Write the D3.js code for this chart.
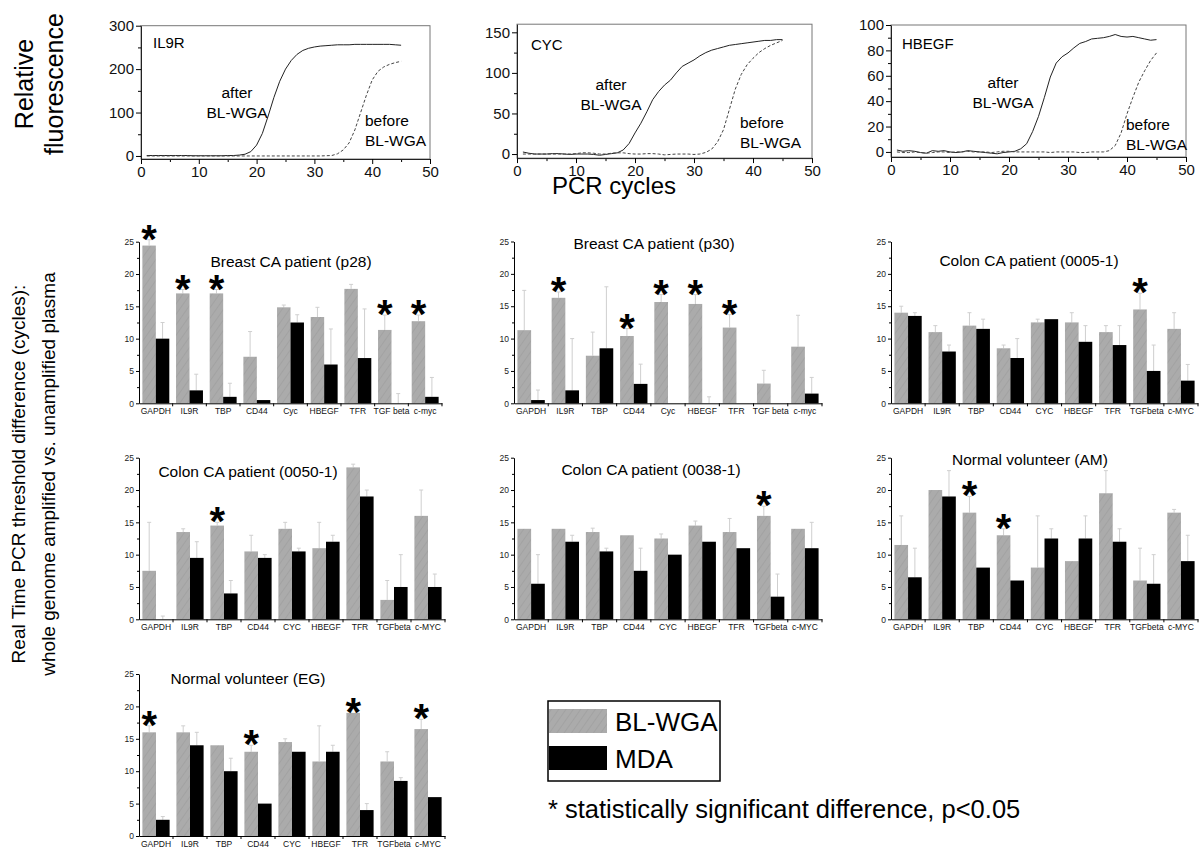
<!DOCTYPE html>
<html>
<head>
<meta charset="utf-8">
<script src="https://cdn.jsdelivr.net/npm/d3@7"></script>
<style>
body{margin:0;background:#fff}
svg{display:block;font-family:"Liberation Sans",Arial,sans-serif}
</style>
</head>
<body>
<svg id="fig" width="1199" height="851"></svg>
<script>
// ---- amplification curves (relative fluorescence per PCR cycle, cycles 1..45)
var cycles = d3.range(1, 46);
var il9rAfter = [1,1,1,1,1,1,1,1,0.5,0.5,0.5,0.5,0.5,0.5,1,1,2,
  4,10,25,52,92,135,172,200,220,234,243,248,251,253,254,255,256,256,256,257,257,257,257,257,257,257,256,255];
var il9rBefore = [0,0,0,0,0,0,0,0,0,0,0,0,0,0,0,0,0,0,0,0,0,0,0,0,0,0,0,0,0,0,0,0.5,1,
  5,14,30,60,100,140,175,195,205,211,215,218];
var cycAfter = [2.5,1,0,0,0,0.5,0.5,0,-0.5,0,0,0,-0.5,-1.5,-0.5,0.5,1.5,
  5,13,26,38,52,67,77,85,91,100,108,112,116,121,125,128,130,132,134,135,136,137,138,139,140,140,141,141];
var cycBefore = [0,0,0,0,0,0,0,0,0,0.5,1.5,1.5,1,0,0,1,1.5,1.5,0.5,0,0,0.5,0.5,0,-1,-0.5,0,0,0,-0.5,0,
  2,6,15,30,55,80,98,110,118,125,130,134,137,140];
var hbegfAfter = [1.5,0.5,1,0.5,-0.5,-1,1,0.5,1,0,-0.5,0,1,0.5,0,-0.5,-1,-1.5,-0.5,0,0.5,
  2.5,6.5,16,28,43,59,70,75,78,82,85.5,87,89,89.5,90,91,92.5,91,90.5,91,90,89,88,88.5];
var hbegfBefore = [0,-0.5,-0.5,0,-0.5,-1,-0.5,0,0,-0.5,0,0,0.5,0,0,0,-0.5,0,0.5,0.5,0,0,0,0,0,0,-0.5,0,0,0,0,-0.5,-0.5,0,0,0,
  1,5,15,30,43,55,64,72,78];

// ---- threshold differences per gene
var genesA = ["GAPDH","IL9R","TBP","CD44","Cyc","HBEGF","TFR","TGF beta","c-myc"];
var genesB = ["GAPDH","IL9R","TBP","CD44","CYC","HBEGF","TFR","TGFbeta","c-MYC"];

var p28Bl  = [24.4,17,17,7.2,14.85,13.35,17.7,11.35,12.7];
var p28BlE = [0.9,0.6,0.6,3.9,0.35,1.5,0.7,2.3,0.95];
var p28Md  = [10,2,1,0.5,12.5,6,7,0,1];
var p28MdE = [2.5,2.5,2.1,0,1.2,5.5,7.6,1.5,3];
var p28Sig = [0,1,2,7,8];

var p30Bl  = [11.3,16.3,7.35,10.4,15.65,15.35,11.7,3.05,8.75];
var p30BlE = [6.15,0.9,3.65,1.15,1.15,1.45,2,2.05,4.85];
var p30Md  = [0.5,2,8.5,3,0,0,0,0,1.5];
var p30MdE = [1.55,8,9.5,3.05,0,1,0,0,2.5];
var p30Sig = [1,3,4,5,6];

var c0005Bl  = [14,11,12,8.5,12.5,12.5,11,14.5,11.5];
var c0005BlE = [1,1,2,0.5,0.5,1.5,1,2.5,2.5];
var c0005Md  = [13.5,8,11.5,7,13,9.5,9,5,3.5];
var c0005MdE = [0.5,1,1.5,3,0,2.5,3,4,2.5];
var c0005Sig = [7];

var c0050Bl  = [7.5,13.5,14.5,10.5,14,11,23.5,3,16];
var c0050BlE = [7.5,0.5,0.5,2.5,1,4,0.5,3,4];
var c0050Md  = [0,9.5,4,9.5,10.5,12,19,5,5];
var c0050MdE = [0.5,2.5,2,0.5,0.5,1,1,5,2];
var c0050Sig = [2];

var c0038Bl  = [14,14,13.5,13,12.5,14.5,13.5,16,14];
var c0038BlE = [0,0,0.6,0,0.7,0.7,2.1,1.5,0];
var c0038Md  = [5.5,12,10.5,7.5,10,12,11,3.5,11];
var c0038MdE = [4.5,1,0.5,3.5,0,0,0,3.5,4];
var c0038Sig = [7];

var amBl  = [11.5,20,16.5,13,8,9,19.5,6,16.5];
var amBlE = [4.5,0,2.5,1,8,0,3.5,5,0.5];
var amMd  = [6.5,19,8,6,12.5,12.5,12,5.5,9];
var amMdE = [4.5,4,0,0,1.5,3.5,2,4.5,4];
var amSig = [2,3];

var egBl  = [16,16,14,13,14.5,11.5,19,11.5,16.5];
var egBlE = [1,1,0,1,0.5,5.5,0,1.5,1.5];
var egMd  = [2.5,14,10,5,13,13,4,8.5,6];
var egMdE = [0.5,2,2,0,0,1,1,0.5,0];
var egSig = [0,3,6,8];

var svg = d3.select("#fig");
var GRAY = "#ababab";

// hatched gray fill
var pat = svg.append("defs").append("pattern")
  .attr("id","hatch").attr("patternUnits","userSpaceOnUse")
  .attr("width",6).attr("height",6)
  .attr("patternTransform","rotate(35)");
pat.append("rect").attr("width",6).attr("height",6).attr("fill",GRAY);
pat.append("line").attr("x1",0).attr("y1",0).attr("x2",0).attr("y2",6)
  .attr("stroke","#9f9f9f").attr("stroke-width",1.5);

// ---------- top row: amplification curves
function curvePanel(o){
  var x = d3.scaleLinear().domain([0,50]).range([o.x0,o.x1]);
  var y = d3.scaleLinear().domain(o.yDom).range([o.yb,o.yt]);
  var g = svg.append("g");
  g.append("rect").attr("x",o.x0).attr("y",o.yt).attr("width",o.x1-o.x0).attr("height",o.yb-o.yt)
    .attr("fill","none").attr("stroke","#777").attr("stroke-width",1);
  // minor ticks
  g.append("g").attr("transform","translate(0,"+o.yb+")")
    .call(d3.axisBottom(x).tickValues(d3.range(5,50,10)).tickSize(3).tickFormat(""))
    .call(function(a){a.select(".domain").remove();});
  g.append("g").attr("transform","translate("+o.x0+",0)")
    .call(d3.axisLeft(y).tickValues(o.minor).tickSize(3).tickFormat(""))
    .call(function(a){a.select(".domain").remove();});
  var xa = g.append("g").attr("transform","translate(0,"+o.yb+")")
    .call(d3.axisBottom(x).tickValues(d3.range(0,51,10)).tickSize(5).tickPadding(2).tickSizeOuter(0));
  var ya = g.append("g").attr("transform","translate("+o.x0+",0)")
    .call(d3.axisLeft(y).tickValues(o.major).tickSize(5).tickPadding(2).tickSizeOuter(0));
  [xa,ya].forEach(function(a){
    a.selectAll("text").attr("font-size",15).attr("fill","#111").attr("font-family",null);
    a.select(".domain").attr("stroke","#222");
  });
  var line = d3.line().x(function(d,i){return x(cycles[i]);}).y(function(d){return y(d);});
  g.append("path").attr("d",line(o.after)).attr("fill","none").attr("stroke","#222").attr("stroke-width",1);
  g.append("path").attr("d",line(o.before)).attr("fill","none").attr("stroke","#444")
    .attr("stroke-width",1).attr("stroke-dasharray","3,2");
  g.append("text").attr("x",o.name[0]).attr("y",o.name[1]).attr("font-size",15).text(o.name[2]);
  g.append("text").attr("x",o.aft[0]).attr("y",o.aft[1]).attr("font-size",15.5).attr("text-anchor","middle").text("after");
  g.append("text").attr("x",o.aft[0]).attr("y",o.aft[1]+20).attr("font-size",15.5).attr("text-anchor","middle").text("BL-WGA");
  g.append("text").attr("x",o.bef[0]).attr("y",o.bef[1]).attr("font-size",15.5).text("before");
  g.append("text").attr("x",o.bef[0]).attr("y",o.bef[1]+20).attr("font-size",15.5).text("BL-WGA");
}

curvePanel({x0:141,x1:430,yt:25.7,yb:159,yDom:[-7,300],major:[0,100,200,300],minor:[50,150,250],
  after:il9rAfter,before:il9rBefore,name:[153,48,"IL9R"],aft:[237,98],bef:[365,126]});
curvePanel({x0:517,x1:812,yt:24.2,yb:158.1,yDom:[-5,160],major:[0,50,100,150],minor:[25,75,125],
  after:cycAfter,before:cycBefore,name:[531,50,"CYC"],aft:[611,90],bef:[740,128]});
curvePanel({x0:891,x1:1186,yt:25,yb:157,yDom:[-4,100],major:[0,20,40,60,80,100],minor:[10,30,50,70,90],
  after:hbegfAfter,before:hbegfBefore,name:[902,49,"HBEGF"],aft:[1003,88],bef:[1126,130]});

svg.append("text").attr("x",614).attr("y",194).attr("text-anchor","middle").attr("font-size",24).text("PCR cycles");
svg.append("text").attr("transform","translate(33,84) rotate(-90)").attr("text-anchor","middle")
  .attr("font-size",25).text("Relative");
svg.append("text").attr("transform","translate(63,84) rotate(-90)").attr("text-anchor","middle")
  .attr("font-size",25).text("fluorescence");

// ---------- bar panels
function barPanel(o){
  var x = d3.scaleBand().domain(o.genes).range([o.x0,o.x1]).paddingInner(0.2).paddingOuter(0.1);
  var y = d3.scaleLinear().domain([0,25]).range([o.y0,o.y25]);
  var bw = x.bandwidth()/2;
  var g = svg.append("g");
  var rows = o.genes.map(function(n,i){return {n:n,bl:o.bl[i],blE:o.blE[i],md:o.md[i],mdE:o.mdE[i],sig:o.sig.indexOf(i)>=0};});
  // error bars (upper only)
  function err(xc,v,e){
    if(e<=0) return;
    g.append("line").attr("x1",xc).attr("x2",xc).attr("y1",y(v)).attr("y2",y(v+e)).attr("stroke","#cfcfcf").attr("stroke-width",1);
    g.append("line").attr("x1",xc-2).attr("x2",xc+2).attr("y1",y(v+e)).attr("y2",y(v+e)).attr("stroke","#cfcfcf").attr("stroke-width",1);
  }
  rows.forEach(function(d){
    err(x(d.n)+bw/2,d.bl,d.blE);
    err(x(d.n)+bw*1.5,d.md,d.mdE);
  });
  g.selectAll(".bl").data(rows).enter().append("rect")
    .attr("x",function(d){return x(d.n);}).attr("width",bw)
    .attr("y",function(d){return y(d.bl);}).attr("height",function(d){return y(0)-y(d.bl);})
    .attr("fill","url(#hatch)");
  g.selectAll(".md").data(rows).enter().append("rect")
    .attr("x",function(d){return x(d.n)+bw;}).attr("width",bw)
    .attr("y",function(d){return y(d.md);}).attr("height",function(d){return y(0)-y(d.md);})
    .attr("fill","#000");
  g.selectAll(".star").data(rows.filter(function(d){return d.sig;})).enter().append("text")
    .attr("x",function(d){return x(d.n)+bw/2;}).attr("y",function(d){return y(d.bl+d.blE)+13;})
    .attr("text-anchor","middle").attr("font-size",40).attr("font-weight","bold").text("*");
  // axes
  g.append("g").attr("transform","translate("+o.x0+",0)")
    .call(d3.axisLeft(y).tickValues([2.5,7.5,12.5,17.5,22.5]).tickSize(2).tickFormat(""))
    .call(function(a){a.select(".domain").remove();});
  var ya = g.append("g").attr("transform","translate("+o.x0+",0)")
    .call(d3.axisLeft(y).tickValues([0,5,10,15,20,25]).tickSize(3).tickPadding(2).tickSizeOuter(0));
  ya.selectAll("text").attr("font-size",8.5).attr("fill","#222").attr("font-family",null);
  var xa = g.append("g").attr("transform","translate(0,"+o.y0+")")
    .call(d3.axisBottom(x).tickSize(0).tickPadding(5).tickSizeOuter(0));
  xa.selectAll("text").attr("font-size",8.5).attr("fill","#111").attr("font-family",null);
  xa.selectAll(".tick").append("line").attr("x1",x.step()/2).attr("x2",x.step()/2).attr("y2",3).attr("stroke","#000");
  g.append("text").attr("x",o.t[0]).attr("y",o.t[1]).attr("text-anchor","middle").attr("font-size",15.5).text(o.title);
}

barPanel({x0:139,x1:442,y0:403.3,y25:241.7,genes:genesA,bl:p28Bl,blE:p28BlE,md:p28Md,mdE:p28MdE,sig:p28Sig,
  title:"Breast CA patient (p28)",t:[291,267]});
barPanel({x0:514,x1:822,y0:403.3,y25:241.5,genes:genesA,bl:p30Bl,blE:p30BlE,md:p30Md,mdE:p30MdE,sig:p30Sig,
  title:"Breast CA patient (p30)",t:[654,249]});
barPanel({x0:891,x1:1198,y0:403.3,y25:241.5,genes:genesB,bl:c0005Bl,blE:c0005BlE,md:c0005Md,mdE:c0005MdE,sig:c0005Sig,
  title:"Colon CA patient (0005-1)",t:[1029,266]});
barPanel({x0:139,x1:445,y0:619.3,y25:457.7,genes:genesB,bl:c0050Bl,blE:c0050BlE,md:c0050Md,mdE:c0050MdE,sig:c0050Sig,
  title:"Colon CA patient (0050-1)",t:[248,477]});
barPanel({x0:514,x1:822,y0:619.3,y25:457.7,genes:genesB,bl:c0038Bl,blE:c0038BlE,md:c0038Md,mdE:c0038MdE,sig:c0038Sig,
  title:"Colon CA patient (0038-1)",t:[651,475]});
barPanel({x0:891,x1:1198,y0:619.3,y25:457.7,genes:genesB,bl:amBl,blE:amBlE,md:amMd,mdE:amMdE,sig:amSig,
  title:"Normal volunteer (AM)",t:[1030,465]});
barPanel({x0:139,x1:445,y0:836,y25:674,genes:genesB,bl:egBl,blE:egBlE,md:egMd,mdE:egMdE,sig:egSig,
  title:"Normal volunteer (EG)",t:[248,684]});

// y title for bar panels
svg.append("text").attr("transform","translate(25,474) rotate(-90)").attr("text-anchor","middle")
  .attr("font-size",19).text("Real Time PCR threshold difference (cycles):");
svg.append("text").attr("transform","translate(55,474) rotate(-90)").attr("text-anchor","middle")
  .attr("font-size",19).text("whole genome amplified vs. unamplified plasma");

// legend
var lg = svg.append("g");
lg.append("rect").attr("x",548).attr("y",701).attr("width",172).attr("height",80)
  .attr("fill","none").attr("stroke","#000").attr("stroke-width",1.5);
lg.append("rect").attr("x",549).attr("y",709).attr("width",58).attr("height",24).attr("fill","url(#hatch)");
lg.append("rect").attr("x",549).attr("y",746).attr("width",58).attr("height",24).attr("fill","#000");
lg.append("text").attr("x",615).attr("y",731).attr("font-size",26).text("BL-WGA");
lg.append("text").attr("x",615).attr("y",768).attr("font-size",26).text("MDA");
svg.append("text").attr("x",548).attr("y",818).attr("font-size",25.5).text("* statistically significant difference, p<0.05");
</script>
</body>
</html>
